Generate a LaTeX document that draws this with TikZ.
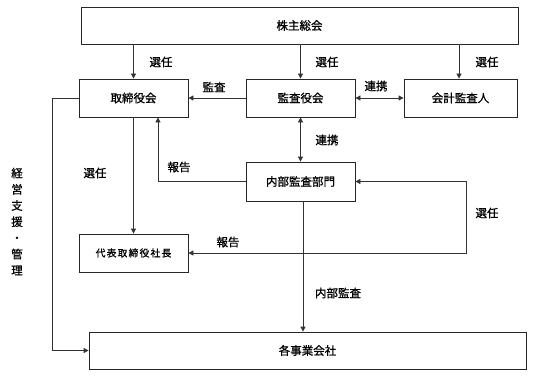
\documentclass[tikz,border=0pt]{standalone}
\usepackage{fontspec}
\setmainfont[FakeBold=0.9]{Noto Sans CJK JP}
\newfontfamily\smallcjk[LetterSpace=12,FakeBold=0.9]{Noto Sans CJK JP}
\usetikzlibrary{arrows.meta}
\tikzset{
  box/.style={draw=black!85, line width=0.8pt, rectangle, inner sep=0pt, font=\fontsize{11.5}{13}\selectfont},
  lab/.style={inner sep=0pt, font=\fontsize{11.5}{13}\selectfont},
  conn/.style={draw=black!80, line width=0.8pt},
  arr/.style={conn, -{Triangle[length=5pt,width=5pt]}},
  darr/.style={conn, {Triangle[length=5pt,width=5pt]}-{Triangle[length=5pt,width=5pt]}},
}
\begin{document}
\begin{tikzpicture}[x=1pt,y=-1pt]
\useasboundingbox (0,0) rectangle (534,377);
\node[box, minimum width=437, minimum height=37] (soukai) at (299.5,25.5) {株主総会};
\node[box, minimum width=109, minimum height=38] (tori) at (133.5,98) {取締役会};
\node[box, minimum width=109, minimum height=38] (kansa) at (300.5,98) {監査役会};
\node[box, minimum width=113, minimum height=38] (kaikei) at (460.5,98) {会計監査人};
\node[box, minimum width=109, minimum height=39] (naibu) at (300.5,181.5) {内部監査部門};
\node[box, minimum width=109, minimum height=38, font=\smallcjk\fontsize{9.8}{12}\selectfont] (daihyo) at (133.5,253) {代表取締役社長};
\node[box, minimum width=437, minimum height=37] (jigyo) at (307.5,350.5) {各事業会社};

\coordinate (rc) at (466,253);
\coordinate (lc) at (52,0);
\coordinate (hc) at (158,0);

\draw[arr] (soukai.south -| tori) -- (tori.north);
\draw[arr] (soukai.south -| kansa) -- (kansa.north);
\draw[arr] ([xshift=-1.5]soukai.south -| kaikei) -- ([xshift=-1.5]kaikei.north);
\draw[arr] (kansa.west) -- (tori.east);
\draw[darr] (kansa.east) -- (kaikei.west);
\draw[darr] (kansa.south) -- (naibu.north);
\draw[arr] (naibu.west) -| (hc |- tori.south);
\draw[arr] (tori.south) -- (daihyo.north);
\draw[arr] ([xshift=2.5]naibu.south) -- ([xshift=2.5]naibu.south |- jigyo.north);
\draw[darr] (naibu.east) -| (rc) -- (daihyo.east);
\draw[arr] (tori.west) -| (lc |- jigyo.west) -- (jigyo.west);

\node[lab] (l1) at (161,62) {選任};
\node[lab] (l2) at (327,62) {選任};
\node[lab] (l3) at (487,62) {選任};
\node[lab] (l4) at (214,87) {監査};
\node[lab] (l5) at (376,86) {連携};
\node[lab] (l6) at (327,140) {連携};
\node[lab] (l7) at (179,167) {報告};
\node[lab] (l8) at (95,173) {選任};
\node[lab] (l9) at (228,242) {報告};
\node[lab] (l10) at (487,213) {選任};
\node[lab] (l11) at (338,293) {内部監査};
\node[lab, align=center, font=\fontsize{11.5}{16.2}\selectfont] (side) at (17,221.5) {経\\営\\支\\援\\・\\管\\理};
\end{tikzpicture}
\end{document}
